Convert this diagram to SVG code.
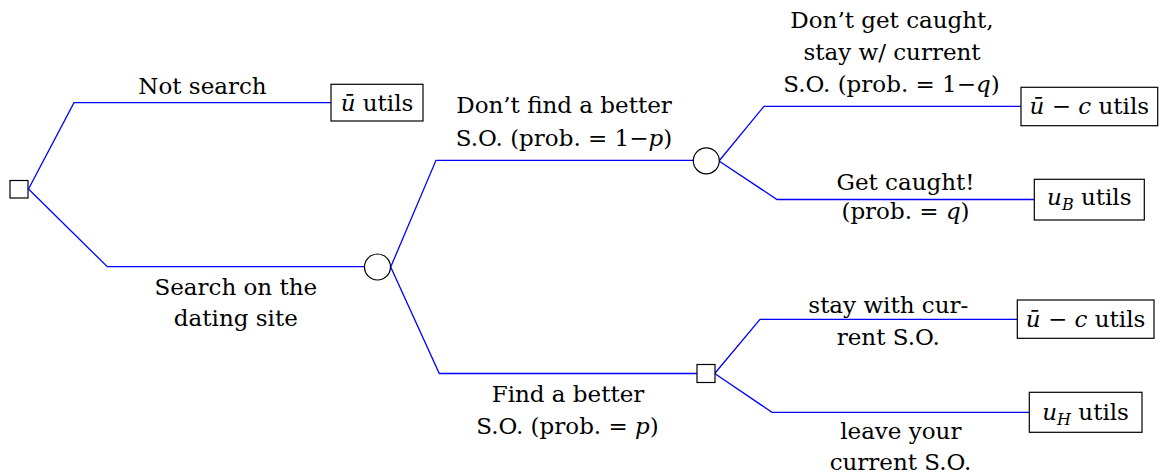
<svg xmlns="http://www.w3.org/2000/svg" width="1164" height="476" viewBox="0 0 1164 476">
<style>
.edge{fill:none;stroke:#0000ff;stroke-width:1.3}
.node{fill:#ffffff;stroke:#000000;stroke-width:1.2}
text{font-family:"DejaVu Serif","Liberation Serif",serif;font-size:23px;fill:#000000;text-anchor:middle}
.m{font-style:italic}
.sub{font-style:italic;font-size:16px}
</style>
<rect width="1164" height="476" fill="#ffffff"/>
<g id="connectors">
<polyline class="edge" points="28.5,189 74,102.7 331,102.7"/>
<polyline class="edge" points="28.5,189 107.3,266.7 364.3,266.7"/>
<polyline class="edge" points="390.7,267 436,160.3 693.2,160.3"/>
<polyline class="edge" points="390.7,267 439.3,373.5 697,373.5"/>
<polyline class="edge" points="719,161 764,106.3 1021,106.3"/>
<polyline class="edge" points="719,161 777,199.5 1034.3,199.5"/>
<polyline class="edge" points="714.7,373.5 760,319.3 1017.3,319.3"/>
<polyline class="edge" points="714.7,373.5 772,412.3 1029.3,412.3"/>
</g>
<g id="edge-labels">
<text x="202.5" y="94">Not search</text>
<text x="235.8" y="295">Search on the</text>
<text x="235.8" y="326">dating site</text>
<text x="564" y="113">Don’t find a better</text>
<text x="564" y="145.5">S.O. (prob. = 1−<tspan class="m">p</tspan>)</text>
<text x="568" y="401.5">Find a better</text>
<text x="567.5" y="433.5">S.O. (prob. = <tspan class="m">p</tspan>)</text>
<text x="892" y="27.5">Don’t get caught,</text>
<text x="892" y="59.5">stay w/ current</text>
<text x="891.5" y="91.5">S.O. (prob. = 1−<tspan class="m">q</tspan>)</text>
<text x="905.5" y="190">Get caught!</text>
<text x="905.5" y="219">(prob. = <tspan class="m">q</tspan>)</text>
<text x="888.3" y="313">stay with cur-</text>
<text x="888.3" y="345">rent S.O.</text>
<text x="900.8" y="439">leave your</text>
<text x="900.5" y="470">current S.O.</text>
</g>
<g id="root-decision">
<rect class="node" x="10" y="180.5" width="18" height="17.5"/>
</g>
<g id="search-chance">
<circle class="node" cx="377.5" cy="267" r="13"/>
</g>
<g id="notfind-chance">
<circle class="node" cx="706.3" cy="160.8" r="13"/>
</g>
<g id="find-decision">
<rect class="node" x="697" y="364.5" width="18" height="18"/>
</g>
<g id="payoff-notsearch">
<rect class="node" x="331" y="84.3" width="92" height="36.7"/>
<text x="377" y="111"><tspan class="m">ū</tspan> utils</text>
</g>
<g id="payoff-notcaught">
<rect class="node" x="1021" y="87.3" width="136.7" height="38.4"/>
<text x="1089.3" y="114"><tspan class="m">ū</tspan> − <tspan class="m">c</tspan> utils</text>
</g>
<g id="payoff-caught">
<rect class="node" x="1034.3" y="179.3" width="110" height="40.7"/>
<text x="1089.3" y="205"><tspan class="m">u</tspan><tspan class="sub" dy="5">B</tspan><tspan dy="-5"> utils</tspan></text>
</g>
<g id="payoff-stay">
<rect class="node" x="1017.3" y="300" width="136.7" height="38.3"/>
<text x="1085.6" y="327"><tspan class="m">ū</tspan> − <tspan class="m">c</tspan> utils</text>
</g>
<g id="payoff-leave">
<rect class="node" x="1029.3" y="392.3" width="112.7" height="40"/>
<text x="1085.6" y="420"><tspan class="m">u</tspan><tspan class="sub" dy="5">H</tspan><tspan dy="-5"> utils</tspan></text>
</g>
</svg>
